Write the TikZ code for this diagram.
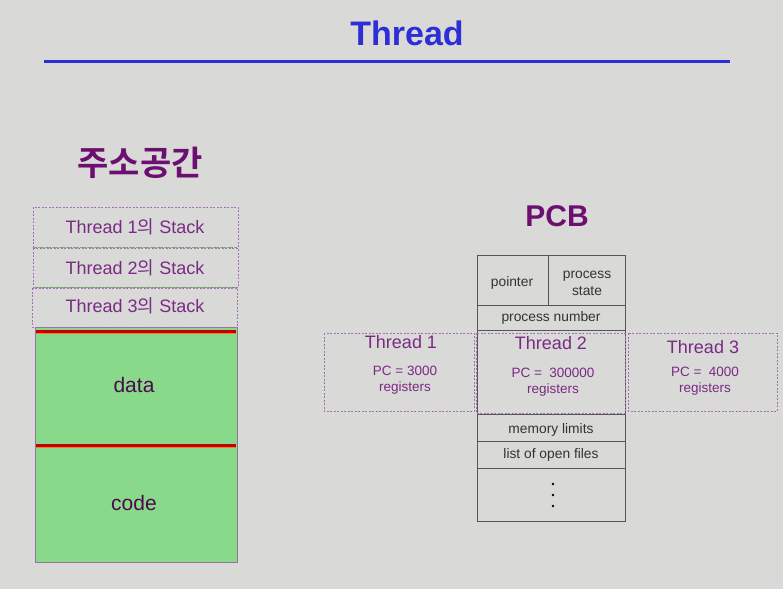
\documentclass[tikz,border=0pt]{standalone}
\usepackage{fontspec}
\setmainfont{Liberation Sans}
\newfontfamily\kr{Noto Sans CJK KR}
\newfontfamily\krb{Noto Sans CJK KR Bold}
\definecolor{bg}{HTML}{D9D9D7}
\definecolor{ttl}{HTML}{2E2ED6}
\definecolor{pur}{HTML}{6B0F70}
\definecolor{tpur}{HTML}{7A2A84}
\definecolor{dpur}{HTML}{A070B0}
\definecolor{grn}{HTML}{88D98A}
\definecolor{dgrn}{HTML}{6FBF5A}
\definecolor{redl}{HTML}{C00010}
\definecolor{pcbtxt}{HTML}{333333}
\definecolor{pcbline}{HTML}{555555}
\tikzset{
  dbox/.style={draw=dpur, dashed, dash pattern=on 2pt off 1.5pt, line width=0.9pt},
  stacktxt/.style={text=tpur, font=\fontsize{18}{20}\selectfont},
  pcbtxt/.style={text=pcbtxt, font=\fontsize{13.8}{17}\selectfont, align=center},
  thtxt/.style={text=tpur, font=\fontsize{18}{20}\selectfont},
  thsmall/.style={text=tpur, font=\fontsize{13.5}{16.5}\selectfont, align=center},
  pcbcell/.style={draw=pcbline, line width=1pt},
}
\begin{document}
\begin{tikzpicture}[x=1pt,y=-1pt]
\useasboundingbox (0,0) rectangle (783,588);
\fill[bg] (-5,-5) rectangle (790,595);
% title
\node[text=ttl, font=\fontsize{34}{36}\bfseries\selectfont] (title) at (407,33) {Thread};
\draw[ttl, line width=3pt] (44,62) -- (730,62);
% left heading
\node[text=pur, font=\fontsize{34}{36}\krb\selectfont] (addr) at (140,163) {주소공간};
% green area
\fill[grn] (35,327) rectangle (237,562);
\draw[dpur!60!gray, line width=0.8pt] (35,327) rectangle (237,562);
\draw[redl, line width=3pt] (36,331) -- (236,331);
\draw[orange, line width=0.8pt] (36,333.2) -- (236,333.2);
\draw[redl, line width=3pt] (36,445) -- (236,445);
\draw[orange, line width=0.8pt] (36,447.2) -- (236,447.2);
\node[text=pur!70!black, font=\fontsize{21}{23}\selectfont] (data) at (134,385) {data};
\node[text=pur!70!black, font=\fontsize{21}{23}\selectfont] (code) at (134,503) {code};
% stacks
\draw[dbox] (33,207) rectangle (238,247);
\draw[dbox] (33,248) rectangle (238,287);
\draw[dbox] (32,288) rectangle (237,327);
\draw[dgrn, dashed, dash pattern=on 2pt off 1.5pt, line width=1.2pt] (34,247.5) -- (237,247.5);
\draw[dgrn, dashed, dash pattern=on 2pt off 1.5pt, line width=1.2pt] (34,287.5) -- (237,287.5);
\node[stacktxt] (s1) at (135,227) {Thread 1{\kr 의} Stack};
\node[stacktxt] (s2) at (135,268) {Thread 2{\kr 의} Stack};
\node[stacktxt] (s3) at (135,306) {Thread 3{\kr 의} Stack};
% PCB heading
\node[text=pur, font=\fontsize{30}{32}\bfseries\selectfont] (pcb) at (557,216) {PCB};
% PCB table
\draw[pcbcell] (477,255) rectangle (625,521);
\draw[pcbcell] (548,255) -- (548,305);
\draw[pcbcell] (477,305) -- (625,305);
\draw[pcbcell] (477,330) -- (625,330);
\draw[pcbcell] (477,414) -- (625,414);
\draw[pcbcell] (477,441) -- (625,441);
\draw[pcbcell] (477,468) -- (625,468);
\node[pcbtxt] (ptr) at (512,283) {pointer};
\node[pcbtxt] (pst) at (587,283) {process\\state};
\node[pcbtxt] (pnum) at (551,318) {process number};
\node[pcbtxt] (mem) at (551,430) {memory limits};
\node[pcbtxt] (files) at (551,455) {list of open files};
\foreach \yy/\nm in {484/d1,495/d2,506/d3} \fill[pcbtxt] (553,\yy) circle (1.4pt) coordinate (\nm);
% thread boxes
\draw[dbox] (324,333) rectangle (474,411);
\draw[dbox] (476,333) rectangle (625,413);
\draw[dbox] (628,333) rectangle (777,411);
\node[thtxt] (t1) at (401,342) {Thread 1};
\node[thsmall] (t1r) at (405,380) {PC = 3000\\ registers};
\node[thtxt] (t2) at (551,343) {Thread 2};
\node[thsmall] (t2r) at (553,382) {PC =\ \ 300000\\registers};
\node[thtxt] (t3) at (703,347) {Thread 3};
\node[thsmall] (t3r) at (705,381) {PC =\ \ 4000\\registers};
\end{tikzpicture}
\end{document}
